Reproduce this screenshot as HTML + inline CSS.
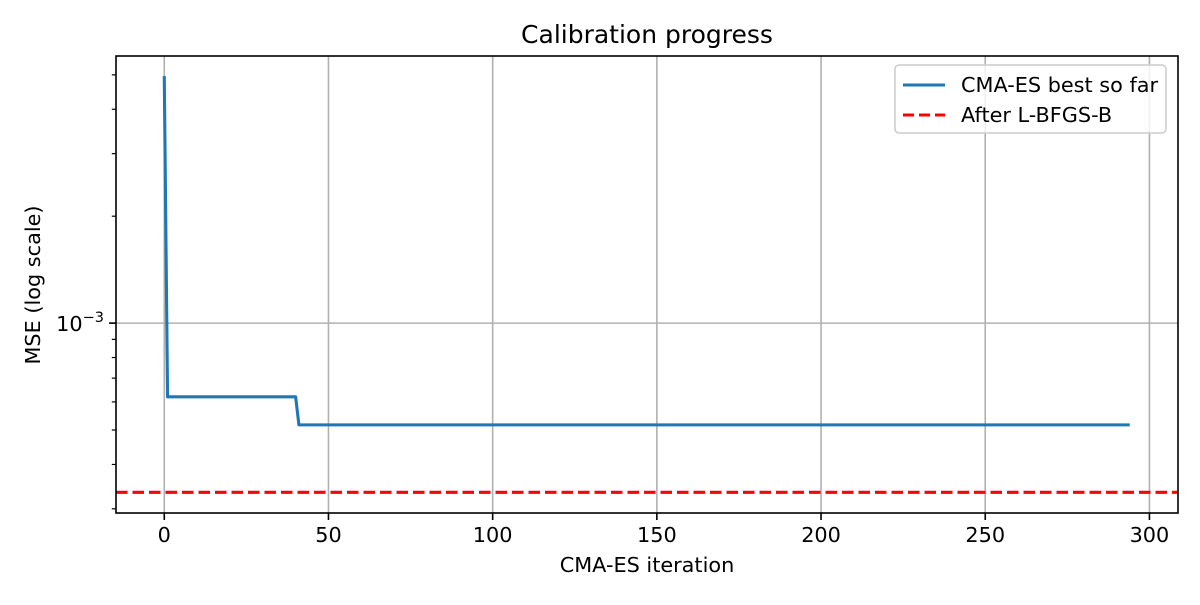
<!DOCTYPE html>
<html><head><meta charset="utf-8"><style>
html,body{margin:0;padding:0;background:#fff;}
svg text{font-family:"DejaVu Sans","Liberation Sans",sans-serif;fill:#000;}
</style></head><body>
<svg id="chart" width="1200" height="600" xmlns="http://www.w3.org/2000/svg">
<rect width="1200" height="600" fill="#fff"/>
<g id="grid"></g>
<g id="series"></g>
<g id="axes"></g>
<text x="647" y="43" font-size="25" text-anchor="middle">Calibration progress</text>
<text x="647" y="572" font-size="20.8" text-anchor="middle">CMA-ES iteration</text>
<text transform="translate(40,285) rotate(-90)" font-size="20.8" text-anchor="middle">MSE (log scale)</text>
<g>
<rect x="895" y="65" width="271" height="68" rx="4" fill="#fff" fill-opacity="0.8" stroke="#ccc" stroke-width="1.5"/>
<line x1="903" y1="85" x2="945" y2="85" stroke="#1f77b4" stroke-width="3"/>
<text x="961" y="92" font-size="20.8">CMA-ES best so far</text>
<line x1="903" y1="115" x2="945" y2="115" stroke="#ff0000" stroke-width="3" stroke-dasharray="11,5"/>
<text x="961" y="122" font-size="20.8">After L-BFGS-B</text>
</g>
</svg>
<script>
const iterations = [0, 1, 40, 41, 294];
const bestMse = [4.96e-3, 6.2e-4, 6.2e-4, 5.17e-4, 5.17e-4];
const lbfgsbMse = [3.34e-4];
const xTicks = [0, 50, 100, 150, 200, 250, 300];
const yMajorTicks = [1e-3];
const yMinorTicks = [3e-4, 4e-4, 5e-4, 6e-4, 7e-4, 8e-4, 9e-4, 2e-3, 3e-3, 4e-3, 5e-3];

const NS = "http://www.w3.org/2000/svg";
const L = 116, R = 1178, T = 56, B = 513;
const xMin = -14.7, xMax = 308.7;
const yLogMin = Math.log10(2.92e-4), yLogMax = Math.log10(5.65e-3);
const xs = v => L + (v - xMin) / (xMax - xMin) * (R - L);
const ys = v => B - (Math.log10(v) - yLogMin) / (yLogMax - yLogMin) * (B - T);
function mk(tag, attrs, parent) {
  const e = document.createElementNS(NS, tag);
  for (const k in attrs) e.setAttribute(k, attrs[k]);
  parent.appendChild(e);
  return e;
}
const grid = document.getElementById('grid');
const series = document.getElementById('series');
const axes = document.getElementById('axes');

xTicks.forEach(t => {
  const x = xs(t);
  const g = mk('line', {x1: x, y1: T, x2: x, y2: B, stroke: '#b0b0b0', 'stroke-width': 1.6}, grid);
  
  
  const tk = mk('line', {x1: x, y1: B, x2: x, y2: B + 7, stroke: '#000', 'stroke-width': 1.6}, axes);
  
  
  const lb = mk('text', {x: x, y: B + 29, 'font-size': 20.8, 'text-anchor': 'middle'}, axes);
  lb.textContent = t;
  
  
});
yMajorTicks.forEach(t => {
  const y = ys(t);
  const g = mk('line', {x1: L, y1: y, x2: R, y2: y, stroke: '#b0b0b0', 'stroke-width': 1.6}, grid);
  
  
  const tk = mk('line', {x1: L - 7, y1: y, x2: L, y2: y, stroke: '#000', 'stroke-width': 1.6}, axes);
  
  
  const lb = mk('text', {x: L - 12, y: y + 8, 'font-size': 20.8, 'text-anchor': 'end'}, axes);
  
  
  const exp = Math.round(Math.log10(t));
  lb.innerHTML = '10<tspan font-size="14.5" dy="-9">\u2212' + Math.abs(exp) + '</tspan>';
});
yMinorTicks.forEach(t => {
  const y = ys(t);
  const tk = mk('line', {x1: L - 4.2, y1: y, x2: L, y2: y, stroke: '#000', 'stroke-width': 1.2}, axes);
  
  
});
const pts = iterations.map((v, i) => xs(v) + ',' + ys(bestMse[i])).join(' ');
const pl = mk('polyline', {points: pts, fill: 'none', stroke: '#1f77b4', 'stroke-width': 3.1, 'stroke-linejoin': 'round'}, series);


lbfgsbMse.forEach(v => {
  const hl = mk('line', {x1: L, y1: ys(v), x2: R, y2: ys(v), stroke: '#ff0000', 'stroke-width': 3.1, 'stroke-dasharray': '11.5,5'}, series);
  
  
});
const frame = mk('rect', {x: L, y: T, width: R - L, height: B - T, fill: 'none', stroke: '#000', 'stroke-width': 1.6}, axes);


</script>
</body></html>
